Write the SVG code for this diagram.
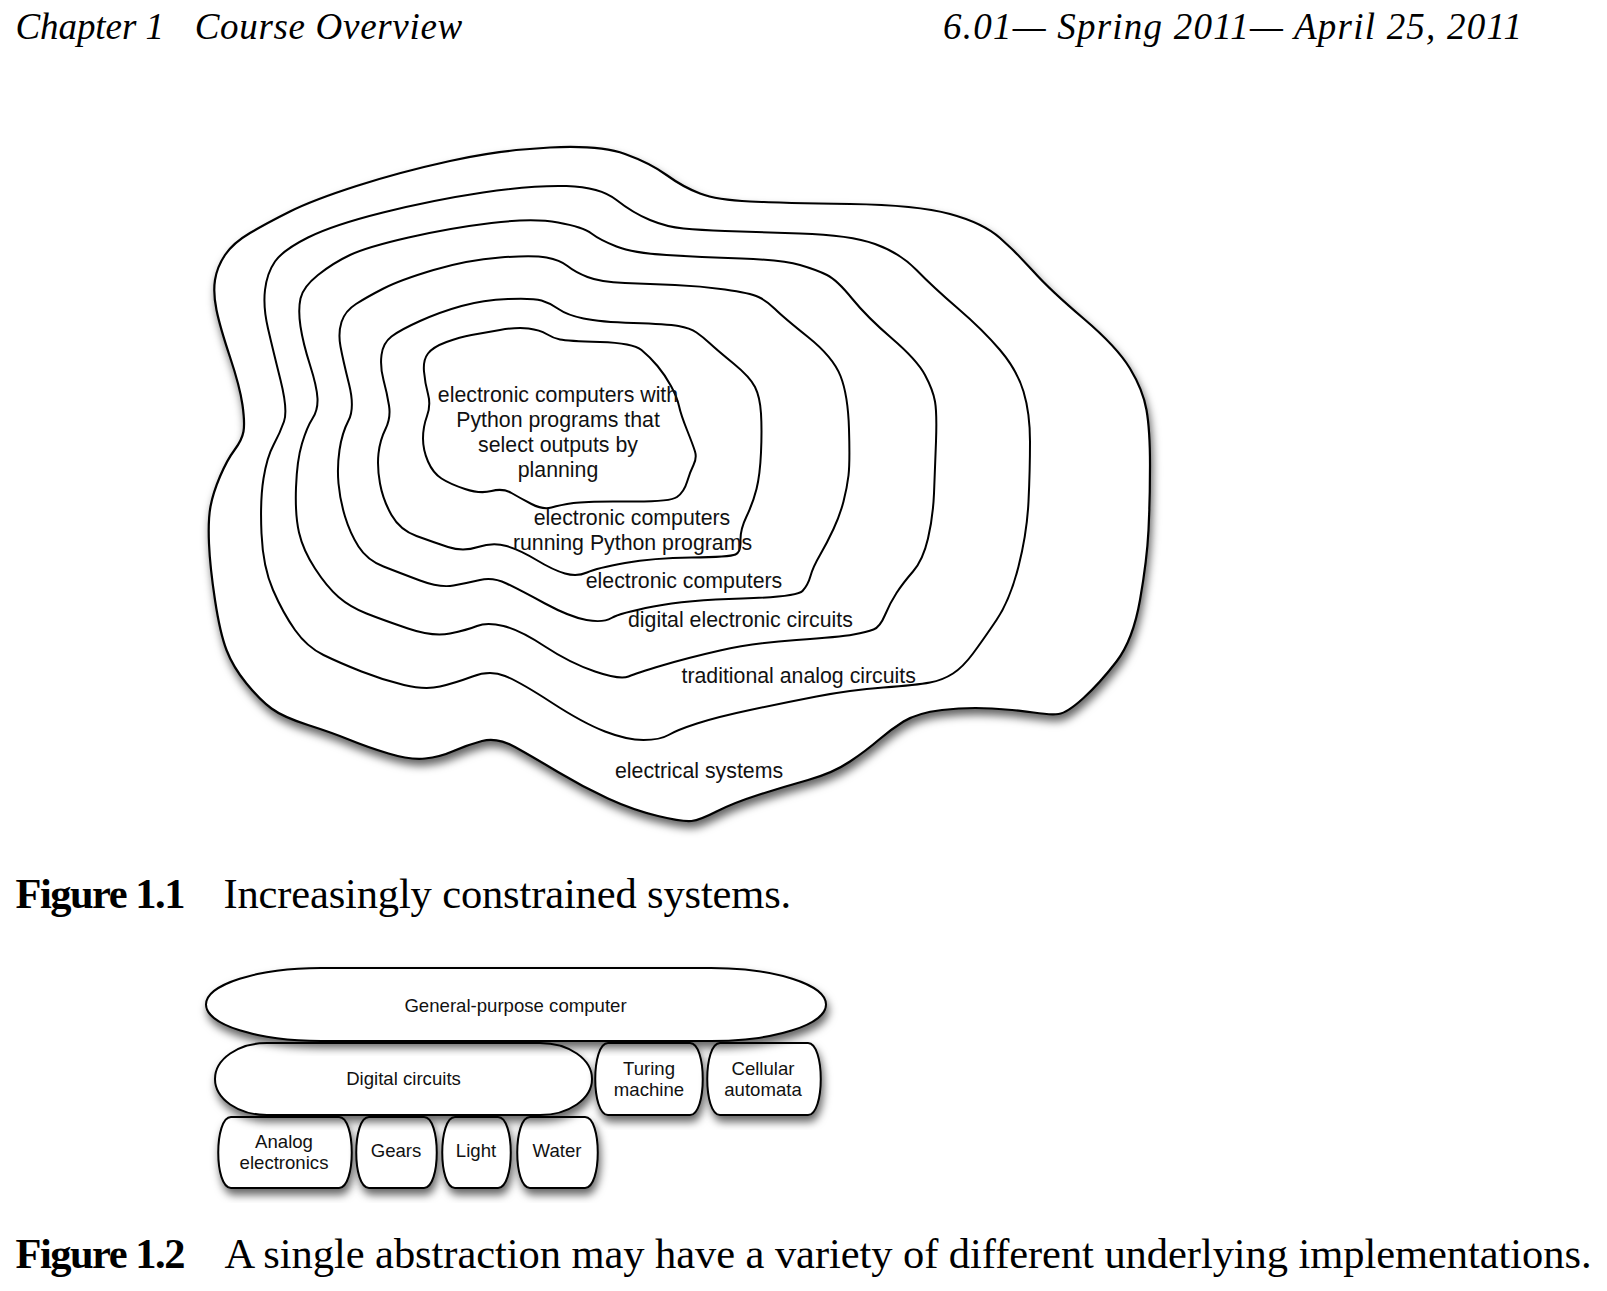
<svg xmlns="http://www.w3.org/2000/svg" width="1607" height="1291" viewBox="0 0 1607 1291">
<defs>
<style>
.ct{fill:none;stroke:#000;stroke-width:2;stroke-linejoin:round}
.outer{fill:#fff;stroke:#000;stroke-width:2.2}
.lb{font-family:"Liberation Sans",Arial,Helvetica,sans-serif;font-size:21.3px;fill:#111}
.bx{fill:#fff;stroke:#000;stroke-width:2}
.bl{font-family:"Liberation Sans",Arial,Helvetica,sans-serif;font-size:18.6px;fill:#111;text-anchor:middle}
.hd{font-family:"Liberation Serif","Times New Roman",serif;font-style:italic;font-size:37px;fill:#000}
.cap{font-family:"Liberation Serif","Times New Roman",serif;font-size:42.5px;fill:#000}
.capb{font-family:"Liberation Serif","Times New Roman",serif;font-size:42.5px;font-weight:bold;fill:#000}
</style>
<filter id="sh" x="-10%" y="-10%" width="125%" height="130%">
<feDropShadow dx="2" dy="6" stdDeviation="4" flood-color="#000" flood-opacity="0.6"/>
</filter>
</defs>
<rect width="1607" height="1291" fill="#fff"/>

<g id="header">
<text class="hd" x="15.4" y="39" textLength="148.6">Chapter 1</text>
<text class="hd" x="194.7" y="39" textLength="267.5">Course Overview</text>
<text class="hd" x="943" y="39" textLength="579">6.01— Spring 2011— April 25, 2011</text>
</g>

<g id="electrical-systems">
<path class="outer" filter="url(#sh)" d="M216.5,310 Q213,293 215,280 Q217,267 225,255 Q233,243 250,233 Q267,223 290,211.5 Q313,200 356.5,186 Q400,172 450,161 Q500,150 550,147.5 Q600,145 625,154 Q650,163 666.5,175 Q683,187 700,193.5 Q717,200 750,201.5 Q783,203 850,204 Q917,205 950,214 Q983,223 1000,238 Q1017,253 1033.5,271.5 Q1050,290 1083.5,318.5 Q1117,347 1130,368.5 Q1143,390 1146.5,410 Q1150,430 1150,465 Q1150,500 1148.5,530 Q1147,560 1140,600 Q1133,640 1116.5,661.5 Q1100,683 1083.5,698 Q1067,713 1058.5,714 Q1050,715 1033.5,712.5 Q1017,710 992,708.5 Q967,707 942,710 Q917,713 903.5,721.5 Q890,730 878.5,740 Q867,750 850,761.5 Q833,773 808,780 Q783,787 758,795 Q733,803 716.5,811.5 Q700,820 691.5,821 Q683,822 658,816 Q633,810 608,798.5 Q583,787 558,772 Q533,757 515,747 Q497,737 482,741 Q467,745 453.5,751 Q440,757 425,758.5 Q410,760 388.5,753.5 Q367,747 350,740 Q333,733 308,725 Q283,717 271.5,708.5 Q260,700 246.5,683.5 Q233,667 226.5,650 Q220,633 215,600 Q210,567 209,543.5 Q208,520 210.5,506.5 Q213,493 220,476.5 Q227,460 234.5,450 Q242,440 243.5,431.5 Q245,423 242.5,405 Q240,387 230,357 Q220,327 216.5,310 Z"/>
<text class="lb" x="615" y="778">electrical systems</text>
</g>

<g id="traditional-analog-circuits">
<path class="ct" d="M268,328.5 Q263,307 265,290 Q267,273 275,261.5 Q283,250 308,237.5 Q333,225 383,212.5 Q433,200 483,192.5 Q533,185 566.5,186 Q600,187 616.5,200 Q633,213 650,220 Q667,227 683.5,228.5 Q700,230 725,231 Q750,232 800,233.5 Q850,235 875,244 Q900,253 916.5,270 Q933,287 958,308.5 Q983,330 1000,350 Q1017,370 1023.5,391.5 Q1030,413 1030,441.5 Q1030,470 1028.5,501.5 Q1027,533 1018.5,566.5 Q1010,600 996.5,620 Q983,640 973,653.5 Q963,667 953,673.5 Q943,680 930,682.5 Q917,685 883.5,687.5 Q850,690 816.5,696.5 Q783,703 750,710 Q717,717 697,723.5 Q677,730 668.5,735 Q660,740 643.5,740 Q627,740 605,731.5 Q583,723 551.5,702.5 Q520,682 505,676 Q490,670 472.5,676.5 Q455,683 440,686.5 Q425,690 404,685 Q383,680 361.5,671.5 Q340,663 323.5,655 Q307,647 295,630 Q283,613 273,590 Q263,567 261.5,533.5 Q260,500 263.5,478.5 Q267,457 273.5,445 Q280,433 284,421.5 Q288,410 280.5,380 Q273,350 268,328.5 Z"/>
<text class="lb" x="681.5" y="683">traditional analog circuits</text>
</g>

<g id="digital-electronic-circuits">
<path class="ct" d="M300.5,326.5 Q298,310 300.5,298.5 Q303,287 318,275 Q333,263 350,255 Q367,247 408.5,237.5 Q450,228 491.5,223 Q533,218 558,222.5 Q583,227 591.5,233.5 Q600,240 616.5,246.5 Q633,253 666.5,255 Q700,257 741.5,258.5 Q783,260 800,265 Q817,270 827,275 Q837,280 852,298.5 Q867,317 892,338.5 Q917,360 925,375 Q933,390 935,401.5 Q937,413 936,441.5 Q935,470 934,493.5 Q933,517 928,538.5 Q923,560 913,571.5 Q903,583 896.5,593 Q890,603 885,615 Q880,627 873.5,629.5 Q867,632 853.5,634.5 Q840,637 796.5,640 Q753,643 720,650.5 Q687,658 662,665.5 Q637,673 628.5,676.5 Q620,680 595,671.5 Q570,663 545,646.5 Q520,630 503.5,626 Q487,622 477,626 Q467,630 450,633.5 Q433,637 408,628.5 Q383,620 366.5,613.5 Q350,607 338.5,597 Q327,587 315,568.5 Q303,550 299,532.5 Q295,515 296,487.5 Q297,460 302,443.5 Q307,427 312.5,418.5 Q318,410 317.5,398.5 Q317,387 310,365 Q303,343 300.5,326.5 Z"/>
<text class="lb" x="628" y="627">digital electronic circuits</text>
</g>

<g id="electronic-computers">
<path class="ct" d="M340.5,346.5 Q338,333 341.5,322 Q345,311 356,304 Q367,297 383.5,288.5 Q400,280 433.5,270 Q467,260 500,257.5 Q533,255 546.5,257.5 Q560,260 567.5,266 Q575,272 587.5,277 Q600,282 625,283 Q650,284 675,285 Q700,286 725,289.5 Q750,293 758.5,297 Q767,301 775,309 Q783,317 808,337 Q833,357 840.5,376 Q848,395 849,429 Q850,463 848.5,475.5 Q847,488 843.5,501.5 Q840,515 833.5,529 Q827,543 820,555 Q813,567 810.5,576 Q808,585 802.5,591 Q797,597 742,598.5 Q687,600 653.5,606.5 Q620,613 611.5,618 Q603,623 586.5,620 Q570,617 545,603.5 Q520,590 506.5,583.5 Q493,577 480,580 Q467,583 453.5,585.5 Q440,588 420,580.5 Q400,573 383.5,566.5 Q367,560 358.5,546.5 Q350,533 345,516.5 Q340,500 338.5,483.5 Q337,467 339.5,450 Q342,433 348.5,420.5 Q355,408 349,384 Q343,360 340.5,346.5 Z"/>
<text class="lb" x="684" y="588" text-anchor="middle">electronic computers</text>
</g>

<g id="running-python">
<path class="ct" d="M383.5,380 Q380,367 381.5,355 Q383,343 391.5,336.5 Q400,330 420,321 Q440,312 461.5,306 Q483,300 508,299 Q533,298 541.5,300.5 Q550,303 558.5,309 Q567,315 583.5,318.5 Q600,322 633.5,323 Q667,324 678.5,326 Q690,328 696.5,332.5 Q703,337 710,343.5 Q717,350 733.5,363.5 Q750,377 755,387 Q760,397 761,413.5 Q762,430 761,452.5 Q760,475 756.5,489 Q753,503 746.5,516.5 Q740,530 740.5,541 Q741,552 735.5,554.5 Q730,557 691.5,557.5 Q653,558 625,563 Q597,568 587,572.5 Q577,577 565,573.5 Q553,570 536.5,560 Q520,550 506.5,546 Q493,542 478,547 Q463,552 448,547 Q433,542 416.5,536 Q400,530 391.5,515 Q383,500 380,483.5 Q377,467 378.5,453.5 Q380,440 385.5,429 Q391,418 389,405.5 Q387,393 383.5,380 Z"/>
<text class="lb" x="632" y="525" text-anchor="middle">electronic computers</text>
<text class="lb" x="632.5" y="550" text-anchor="middle">running Python programs</text>
</g>

<g id="planning">
<path class="ct" d="M424,371.5 Q423,360 428,353.5 Q433,347 446.5,342 Q460,337 471.5,335 Q483,333 500,330 Q517,327 528.5,328.5 Q540,330 546.5,334 Q553,338 560,339.5 Q567,341 600,342 Q633,343 641.5,350 Q650,357 657.5,366 Q665,375 671,386 Q677,397 679,406 Q681,415 687,430 Q693,445 695,451.5 Q697,458 693.5,465 Q690,472 687,482 Q684,492 677,497 Q670,502 628.5,501.5 Q587,501 573.5,503 Q560,505 551.5,507.5 Q543,510 531.5,504 Q520,498 511.5,493 Q503,488 491.5,491 Q480,494 465,489 Q450,484 441.5,478.5 Q433,473 428,461.5 Q423,450 423,438.5 Q423,427 427,416 Q431,405 428,394 Q425,383 424,371.5 Z"/>
<text class="lb" x="558" y="402" text-anchor="middle">electronic computers with</text>
<text class="lb" x="558" y="427" text-anchor="middle">Python programs that</text>
<text class="lb" x="558" y="452" text-anchor="middle">select outputs by</text>
<text class="lb" x="558" y="477" text-anchor="middle">planning</text>
</g>

<g id="caption-1">
<text class="capb" x="15.4" y="908" textLength="170">Figure 1.1</text>
<text class="cap" x="223.4" y="908" textLength="567.8">Increasingly constrained systems.</text>
</g>

<g id="analog-electronics">
<path class="bx" filter="url(#sh)" d="M231,1117 H339 C356,1117 356,1188 339,1188 H231 C214,1188 214,1117 231,1117 Z"/>
<text class="bl" x="284" y="1148">Analog</text>
<text class="bl" x="284" y="1169">electronics</text>
</g>
<g id="gears">
<path class="bx" filter="url(#sh)" d="M369,1117 H424 C441,1117 441,1188 424,1188 H369 C352,1188 352,1117 369,1117 Z"/>
<text class="bl" x="396" y="1157">Gears</text>
</g>
<g id="light">
<path class="bx" filter="url(#sh)" d="M455,1117 H498 C515,1117 515,1188 498,1188 H455 C438,1188 438,1117 455,1117 Z"/>
<text class="bl" x="476" y="1157">Light</text>
</g>
<g id="water">
<path class="bx" filter="url(#sh)" d="M530,1117 H585 C602,1117 602,1188 585,1188 H530 C513,1188 513,1117 530,1117 Z"/>
<text class="bl" x="557" y="1157">Water</text>
</g>
<g id="digital-circuits">
<rect class="bx" filter="url(#sh)" x="215" y="1043" width="377" height="72" rx="52" ry="36"/>
<text class="bl" x="403.5" y="1085">Digital circuits</text>
</g>
<g id="turing-machine">
<path class="bx" filter="url(#sh)" d="M608,1043 H690 C707,1043 707,1115 690,1115 H608 C591,1115 591,1043 608,1043 Z"/>
<text class="bl" x="649" y="1075">Turing</text>
<text class="bl" x="649" y="1096">machine</text>
</g>
<g id="cellular-automata">
<path class="bx" filter="url(#sh)" d="M720,1043 H808 C825,1043 825,1115 808,1115 H720 C703,1115 703,1043 720,1043 Z"/>
<text class="bl" x="763" y="1075">Cellular</text>
<text class="bl" x="763" y="1096">automata</text>
</g>
<g id="general-purpose-computer">
<rect class="bx" filter="url(#sh)" x="206" y="968" width="620" height="73" rx="115" ry="36.5"/>
<text class="bl" x="515.5" y="1011.5">General-purpose computer</text>
</g>
<g id="connectors"></g>

<g id="caption-2">
<text class="capb" x="15.4" y="1268" textLength="170">Figure 1.2</text>
<text class="cap" x="224.5" y="1268" textLength="1367">A single abstraction may have a variety of different underlying implementations.</text>
</g>
</svg>
